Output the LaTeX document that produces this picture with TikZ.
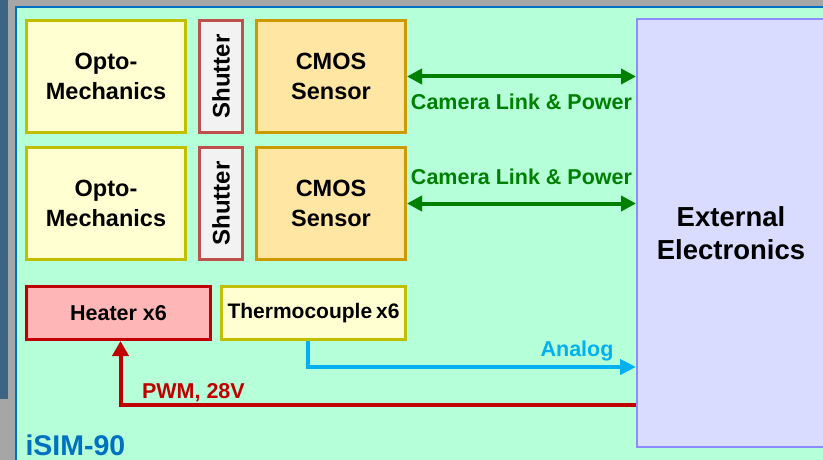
\documentclass[tikz,border=0pt]{standalone}
\usepackage{fontspec}
\setmainfont{Liberation Sans}
\usepackage{graphicx}
\usepackage{xcolor}
\usetikzlibrary{arrows.meta,positioning}
\definecolor{greyband}{HTML}{A6A6A6}
\definecolor{darkstrip}{HTML}{3D6483}
\definecolor{frameblue}{HTML}{0070C0}
\definecolor{mint}{HTML}{B5FFD9}
\definecolor{paleyellow}{HTML}{FFFFD1}
\definecolor{oliveline}{HTML}{BFBF00}
\definecolor{shutterfill}{HTML}{F2F2F2}
\definecolor{shutterline}{HTML}{C0504D}
\definecolor{cmosfill}{HTML}{FFE6A3}
\definecolor{cmosline}{HTML}{CC9900}
\definecolor{heaterfill}{HTML}{FFB6B6}
\definecolor{darkred}{HTML}{C00000}
\definecolor{extfill}{HTML}{D9DCFF}
\definecolor{extline}{HTML}{8C8CFF}
\definecolor{linkgreen}{HTML}{008000}
\definecolor{analogcyan}{HTML}{00B0F0}

\begin{document}
\begin{tikzpicture}[
    x=1pt, y=-1pt,
    node distance=11pt and 11pt,
    optobox/.style={
      draw=oliveline, fill=paleyellow, line width=3pt, align=center,
      minimum width=159pt, minimum height=112pt,
      font=\fontsize{23.5}{30}\selectfont\bfseries
    },
    shutterbox/.style={
      draw=shutterline, fill=shutterfill, line width=3pt, align=center,
      minimum width=43pt, minimum height=112pt, inner sep=0pt,
      font=\fontsize{24}{28}\selectfont\bfseries
    },
    cmosbox/.style={
      draw=cmosline, fill=cmosfill, line width=3pt, align=center,
      minimum width=149pt, minimum height=112pt,
      font=\fontsize{23.5}{30}\selectfont\bfseries
    },
    heaterbox/.style={
      draw=darkred, fill=heaterfill, line width=3pt, align=center,
      minimum width=184pt, minimum height=53pt,
      font=\fontsize{21.5}{24}\selectfont\bfseries
    },
    thermobox/.style={
      draw=oliveline, fill=paleyellow, line width=3pt, align=center,
      minimum width=184pt, minimum height=53pt, inner sep=0pt,
      font=\fontsize{21}{24}\selectfont\bfseries
    },
    extbox/.style={
      draw=extline, fill=extfill, line width=2pt, align=center,
      minimum width=188pt, minimum height=428pt,
      font=\fontsize{27.5}{33}\selectfont\bfseries
    },
    linkarrow/.style={{Triangle[length=15pt,width=15pt]}-{Triangle[length=15pt,width=15pt]},line width=4pt,draw=linkgreen},
    analogarrow/.style={-{Triangle[length=16pt,width=15pt]},line width=4pt,draw=analogcyan},
    pwmarrow/.style={-{Triangle[length=15pt,width=16pt]},line width=4pt,draw=darkred},
    lbl/.style={font=\fontsize{21.5}{24}\selectfont\bfseries}
  ]
    \useasboundingbox (0,0) rectangle (823,460);
    \fill[greyband] (0,0) rectangle (823,460);
    \fill[darkstrip] (0,0) rectangle (8,399);
    \filldraw[fill=mint, draw=frameblue, line width=2.5pt] (16,7) rectangle (850,480);

    \node[optobox] (opto1) at (106,76.5) {Opto-\\Mechanics};
    \node[shutterbox,right=of opto1] (shut1) {\rotatebox{90}{Shutter}};
    \node[cmosbox,right=of shut1] (cmos1) {CMOS\\Sensor};
    \node[optobox,below=12pt of opto1] (opto2) {Opto-\\Mechanics};
    \node[shutterbox,right=of opto2] (shut2) {\rotatebox{90}{Shutter}};
    \node[cmosbox,right=of shut2] (cmos2) {CMOS\\Sensor};
    \node[heaterbox,below right=24pt and 0pt of opto2.south west] (heater) {Heater x6};
    \node[thermobox,right=8pt of heater] (thermo) {Thermocouple\kern-2pt\ x6};
    \node[extbox] (ext) at (731,233) {External\\Electronics};

    \coordinate (analogin) at (636,367);
    \coordinate (pwmout) at (636,405);
    \coordinate (pwmbend) at ([xshift=2pt]heater.south |- pwmout);

    \draw[linkarrow] (cmos1) -- (cmos1 -| ext.west)
      node[lbl,text=linkgreen,midway,below=12pt] (link1) {Camera Link \& Power};
    \draw[linkarrow] (cmos2) -- (cmos2 -| ext.west)
      node[lbl,text=linkgreen,midway,above=13pt] (link2) {Camera Link \& Power};
    \draw[analogarrow] ([xshift=-6pt]thermo.south) |- (analogin);
    \draw[pwmarrow] (pwmout) -- (pwmbend) -- ([xshift=2pt]heater.south);

    \node[lbl,text=analogcyan,above left=2pt and 19pt of analogin] (analog) {Analog};
    \node[lbl,text=darkred,above right=0pt and 18pt of pwmbend] (pwm) {PWM, 28V};
    \node[anchor=base west,text=frameblue,font=\fontsize{28.5}{30}\selectfont\bfseries] (isim) at (22,455) {iSIM-90};
  \end{tikzpicture}
\end{document}
